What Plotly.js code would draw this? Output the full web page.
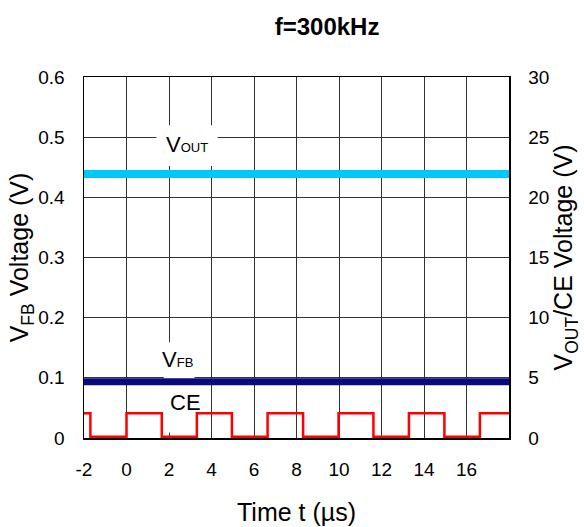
<!DOCTYPE html>
<html>
<head>
<meta charset="utf-8">
<script src="https://cdn.plot.ly/plotly-3.0.1.min.js"></script>
<style>html,body{margin:0;padding:0;background:#fff;}#chart{width:584px;height:527px;}</style>
</head>
<body>
<div id="chart"></div>
<script>
// Time axis (µs)
const xTickVals = [-2, 0, 2, 4, 6, 8, 10, 12, 14, 16];
const xTickText = ['-2', '0', '2', '4', '6', '8', '10', '12', '14', '16'];
// VOUT (right axis, V) – steady level
const voutTime = [-2, 18];
const voutVolt = [21.93, 21.93];
// VFB (left axis, V) – steady level
const vfbTime = [-2, 18];
const vfbVolt = [0.0935, 0.0935];
// CE (right axis, V) – square wave
const ceTime = [-2, -1.70, -1.70, 0.0, 0.0, 1.66, 1.66, 3.31, 3.31, 4.96, 4.96, 6.64, 6.64, 8.31, 8.31, 9.98, 9.98, 11.62, 11.62, 13.29, 13.29, 14.96, 14.96, 16.63, 16.63, 18];
const ceVolt = [2.05, 2.05, 0.1, 0.1, 2.05, 2.05, 0.1, 0.1, 2.05, 2.05, 0.1, 0.1, 2.05, 2.05, 0.1, 0.1, 2.05, 2.05, 0.1, 0.1, 2.05, 2.05, 0.1, 0.1, 2.05, 2.05];

const FONT = 'Liberation Sans, Arial, sans-serif';
const GRID = '#333333';

const traces = [
  {x: vfbTime, y: vfbVolt, mode: 'lines', yaxis: 'y', line: {color: '#0a0a80', width: 7}, hoverinfo: 'skip'},
  {x: voutTime, y: voutVolt, mode: 'lines', yaxis: 'y2', line: {color: '#00c8f8', width: 8}, hoverinfo: 'skip'},
  {x: ceTime, y: ceVolt, mode: 'lines', yaxis: 'y2', line: {color: '#ff0000', width: 2.5}, hoverinfo: 'skip'}
];

const layout = {
  width: 584, height: 527,
  margin: {l: 84, r: 75, t: 77, b: 89},
  paper_bgcolor: '#fff', plot_bgcolor: '#fff',
  showlegend: false,
  font: {family: FONT, color: '#000'},
  title: {text: '<b>f=300kHz</b>', font: {family: FONT, size: 24, color: '#000'},
          xref: 'container', yref: 'container', x: 0.56, xanchor: 'center', y: 0.949, yanchor: 'middle'},
  xaxis: {
    range: [-2, 18], tickvals: xTickVals, ticktext: xTickText, ticks: '', showgrid: true, gridcolor: GRID, gridwidth: 1,
    zeroline: false, showline: true, linecolor: '#000', linewidth: 1.5, mirror: true,
    tickfont: {size: 19}, ticklabelstandoff: 14,
    title: {text: 'Time t (µs)', font: {size: 25}, standoff: 24}
  },
  yaxis: {
    range: [0, 0.6], dtick: 0.1, ticks: '', showgrid: true, gridcolor: GRID, gridwidth: 1,
    zeroline: false, showline: true, linecolor: '#000', linewidth: 1.5, mirror: true,
    tickfont: {size: 19}, ticklabelstandoff: 14,
    title: {text: 'V<sub>FB</sub> Voltage (V)', font: {size: 25}, standoff: 2}
  },
  yaxis2: {
    range: [0, 30], dtick: 5, overlaying: 'y', side: 'right', ticks: '', showgrid: false,
    zeroline: false, showline: true, linecolor: '#000', linewidth: 1.5,
    tickfont: {size: 19}, ticklabelstandoff: 14,
    title: {text: 'V<sub>OUT</sub>/CE Voltage (V)', font: {size: 25}, standoff: 6}
  },
  // white patches behind the labels hide the grid
  shapes: [
    {type: 'rect', xref: 'x', yref: 'y', x0: 1.41, x1: 4.29, y0: 0.452, y1: 0.520, layer: 'between',
     fillcolor: '#fff', line: {width: 0}},
    {type: 'rect', xref: 'x', yref: 'y', x0: 1.75, x1: 3.2, y0: 0.009, y1: 0.159, layer: 'between',
     fillcolor: '#fff', line: {width: 0}}
  ],
  annotations: [
    {x: 2.83, y: 0.487, xref: 'x', yref: 'y', text: 'V<span style="font-size:13px">OUT</span>', showarrow: false,
     font: {size: 22}},
    {x: 2.4, y: 0.131, xref: 'x', yref: 'y', text: 'V<span style="font-size:13px">FB</span>', showarrow: false,
     font: {size: 22}},
    {x: 2.78, y: 0.059, xref: 'x', yref: 'y', text: 'CE', showarrow: false,
     font: {size: 22}}
  ]
};

Plotly.newPlot('chart', traces, layout, {displayModeBar: false, staticPlot: true});
</script>
</body>
</html>
